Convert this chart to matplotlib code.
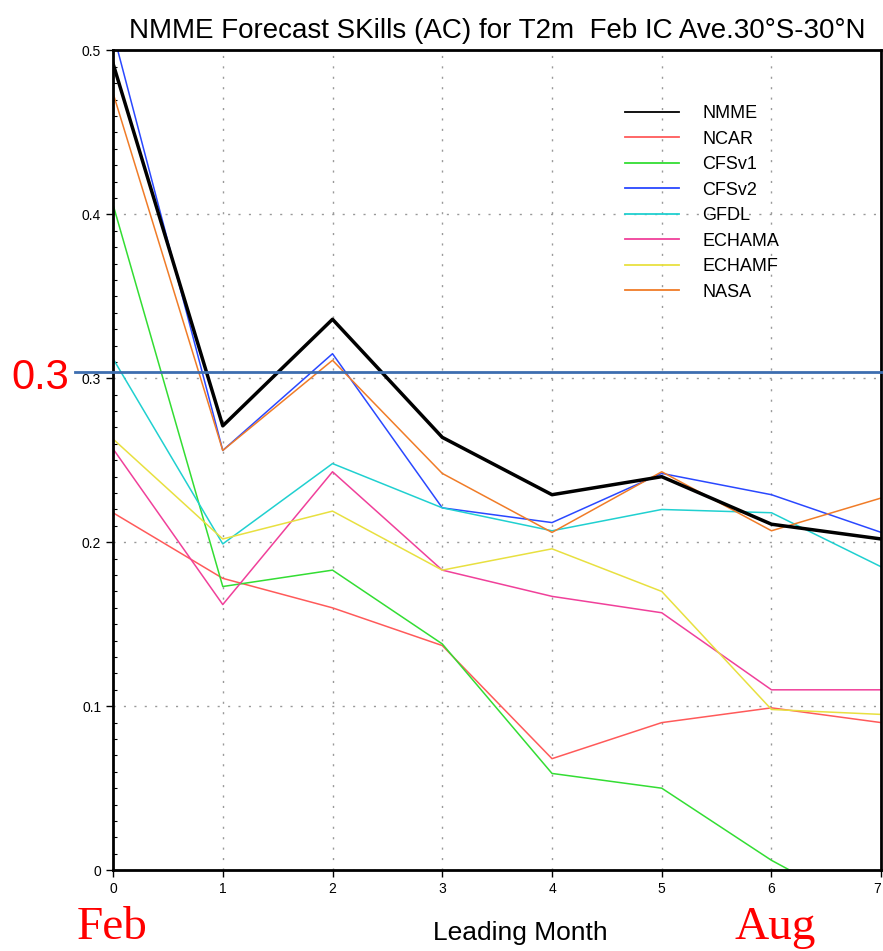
import numpy as np
import matplotlib
matplotlib.use('Agg')
import matplotlib.pyplot as plt

# lead months 0..7 (Feb initial condition)
leads = [0, 1, 2, 3, 4, 5, 6, 7]

nmme   = [0.492, 0.271, 0.336, 0.264, 0.229, 0.240, 0.211, 0.202]
ncar   = [0.218, 0.178, 0.160, 0.137, 0.068, 0.090, 0.099, 0.090]
cfsv1  = [0.406, 0.173, 0.183, 0.138, 0.059, 0.050, 0.006, -0.030]
cfsv2  = [0.511, 0.256, 0.315, 0.221, 0.212, 0.242, 0.229, 0.206]
gfdl   = [0.312, 0.199, 0.248, 0.221, 0.207, 0.220, 0.218, 0.185]
echama = [0.257, 0.162, 0.243, 0.183, 0.167, 0.157, 0.110, 0.110]
echamf = [0.263, 0.202, 0.219, 0.183, 0.196, 0.170, 0.098, 0.095]
nasa   = [0.474, 0.256, 0.311, 0.242, 0.206, 0.243, 0.207, 0.227]

names = ['NMME', 'NCAR', 'CFSv1', 'CFSv2', 'GFDL', 'ECHAMA', 'ECHAMF', 'NASA']
series = [nmme, ncar, cfsv1, cfsv2, gfdl, echama, echamf, nasa]
colors = ['black', '#ff5a5a', '#33dd33', '#2a48ff', '#20d0d0', '#f0409a', '#e8e040', '#f07c28']
widths = [2.5, 1.1, 1.1, 1.1, 1.1, 1.1, 1.1, 1.1]

threshold = 0.304

font = 'Liberation Sans'

fig = plt.figure(figsize=(8.83, 9.51), dpi=100)
ax = fig.add_axes([0.128, 0.085, 0.870, 0.862])

for vals, name, c, w in zip(series, names, colors, widths):
  ax.plot(leads, vals, color=c, lw=w, label=name, zorder=3 if name == 'NMME' else 2)

ax.set_xlim(0, 7)
ax.set_ylim(0, 0.5)
ax.set_xticks(leads)
ax.set_yticks([0, 0.1, 0.2, 0.3, 0.4, 0.5])
ax.set_yticklabels(['0', '0.1', '0.2', '0.3', '0.4', '0.5'])
ax.set_yticks(np.arange(0, 0.5, 0.01), minor=True)
ax.tick_params(axis='y', which='minor', length=3, direction='in', width=0.8)
ax.tick_params(axis='both', which='major', length=5, width=1, labelsize=10)
for lab in ax.get_xticklabels() + ax.get_yticklabels():
  lab.set_family(font)
ax.get_xticklabels()[-1].set_ha('right')
ax.grid(True, which='major', linestyle=(0, (1.5, 6)), color='#999999', lw=1)

for s in ax.spines.values():
  s.set_linewidth(2)
  s.set_color('black')

# reference line drawn past the left edge of the axes
ax.plot([-0.35, 7.05], [threshold, threshold], color='#3d6eb0', lw=2,
        clip_on=False, zorder=4)

ax.set_title('NMME Forecast SKills (AC) for T2m  Feb IC Ave.30°S-30°N',
             family=font, fontsize=20, pad=9)
ax.set_xlabel('Leading Month', family=font, fontsize=19)
ax.xaxis.set_label_coords(0.53, -0.062)

leg = ax.legend(loc='upper left', bbox_to_anchor=(0.645, 0.953), frameon=False,
                prop={'family': font, 'size': 13}, handlelength=3.0,
                handletextpad=1.3, labelspacing=0.47)
for h in leg.get_lines():
  h.set_linewidth(1.3)

fig.text(0.013, 0.603, '0.3', color='red', fontsize=30, family='Liberation Sans',
         va='center', ha='left')
fig.text(0.087, 0.024, 'Feb', color='red', fontsize=34, family='Liberation Serif',
         va='center', ha='left')
fig.text(0.832, 0.024, 'Aug', color='red', fontsize=34, family='Liberation Serif',
         va='center', ha='left')

fig.savefig('out.png', dpi=100)
